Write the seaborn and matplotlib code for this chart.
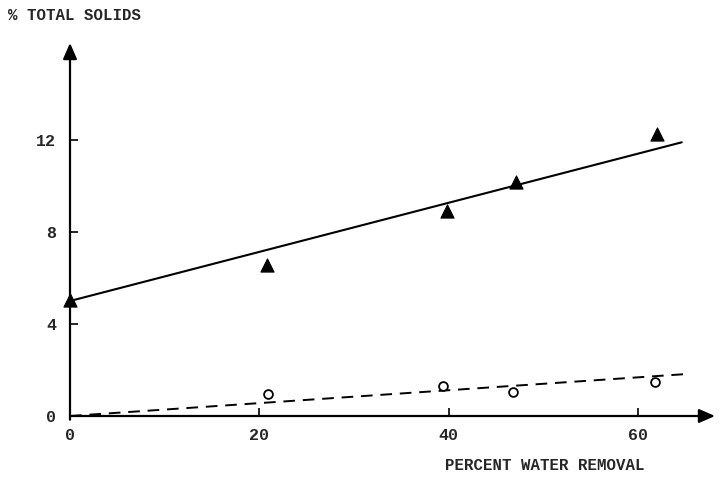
import matplotlib
matplotlib.use("Agg")
import matplotlib.pyplot as plt
import seaborn as sns
import pandas as pd

# Data
tri_x = [0.0, 20.8, 39.8, 47.1, 62.0]
tri_y = [5.04, 6.57, 8.9, 10.17, 12.26]
circ_x = [20.9, 39.4, 46.8, 61.8]
circ_y = [0.96, 1.3, 1.04, 1.48]
solid_x = [0.0, 64.6]
solid_y = [5.0, 11.9]
dash_x = [0.0, 65.3]
dash_y = [0.0, 1.83]
x_ticks = [0, 20, 40, 60]
y_ticks = [0, 4, 8, 12]

sns.set_theme(style="white")
plt.rcParams['font.family'] = ['Liberation Mono', 'DejaVu Sans Mono']

fig = plt.figure(figsize=(7.21, 4.78), dpi=100)
W, H = 721, 478
x0, y0 = 70, 416
x1, ytop = 715, 43
ax = fig.add_axes([x0 / W, (H - y0) / H, (x1 - x0) / W, (y0 - ytop) / H])
pxu = 9.47
ax.set_xlim(0, (x1 - x0) / pxu)
ax.set_ylim(0, (y0 - ytop) / 23.0)

tri_df = pd.DataFrame({"x": tri_x, "y": tri_y})
circ_df = pd.DataFrame({"x": circ_x, "y": circ_y})
sns.lineplot(x=solid_x, y=solid_y, ax=ax, color="black", lw=1.5)
sns.lineplot(x=dash_x, y=dash_y, ax=ax, color="black", lw=1.4, linestyle=(0, (6, 4)))
sns.scatterplot(data=tri_df, x="x", y="y", ax=ax, marker="^", s=90,
                color="black", edgecolor="black", clip_on=False, zorder=5)
sns.scatterplot(data=circ_df, x="x", y="y", ax=ax, marker="o", s=40,
                facecolor="white", edgecolor="black", linewidth=1.3, zorder=5)

for s in ax.spines.values():
    s.set_visible(False)
ax.annotate("", xy=(1.0, 0), xytext=(0, 0), xycoords="axes fraction",
            arrowprops=dict(arrowstyle="-|>,head_length=0.8,head_width=0.35",
                            color="black", lw=1.6, shrinkA=0, shrinkB=0))
ax.annotate("", xy=(0, 1.0), xytext=(0, -0.01), xycoords="axes fraction",
            arrowprops=dict(arrowstyle="-|>,head_length=0.8,head_width=0.35",
                            color="black", lw=1.6, shrinkA=0, shrinkB=0))

ax.set_xticks(x_ticks)
ax.set_yticks(y_ticks)
ax.set_xticklabels([str(v) for v in x_ticks], fontsize=12, fontweight="bold")
ax.set_yticklabels([str(v) for v in y_ticks], fontsize=12, fontweight="bold")
ax.tick_params(axis="both", direction="in", length=6, width=1.2, color="black",
               bottom=True, left=True)
ax.tick_params(axis="x", pad=9)
ax.tick_params(axis="y", pad=10)
ax.set_xlabel("")
ax.set_ylabel("")

fig.text(8 / W, 1 - 15 / H, "% TOTAL SOLIDS", fontsize=11.3, fontweight="bold",
         ha="left", va="center")
fig.text(545 / W, 1 - 466 / H, "PERCENT WATER REMOVAL", fontsize=11.3,
         fontweight="bold", ha="center", va="center")

fig.savefig("out.png", dpi=100)
